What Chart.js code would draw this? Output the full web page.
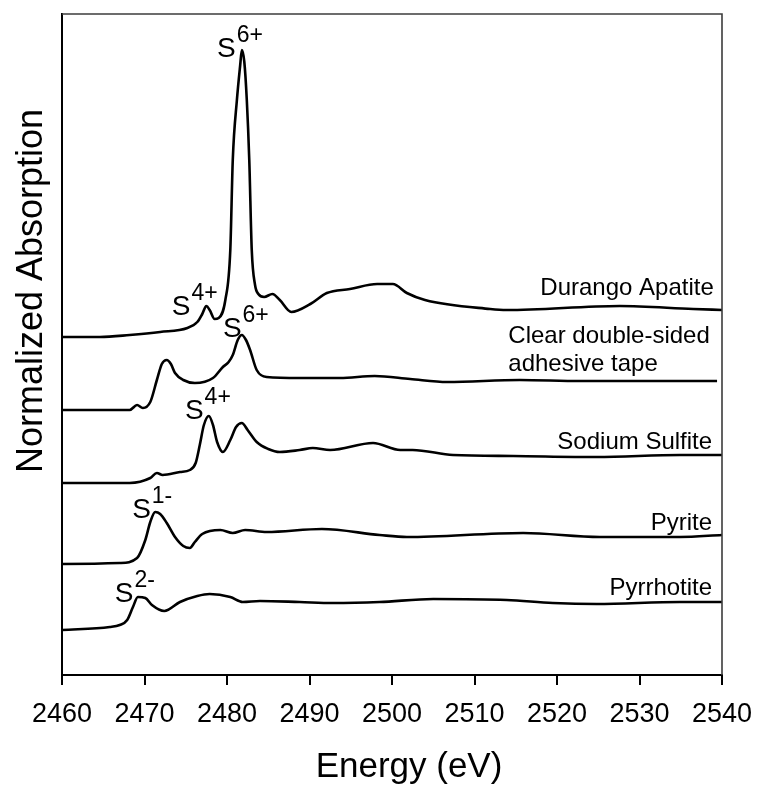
<!DOCTYPE html>
<html>
<head>
<meta charset="utf-8">
<script src="https://cdn.jsdelivr.net/npm/chart.js@4.4.1/dist/chart.umd.min.js"></script>
<style>
  html, body { margin: 0; padding: 0; background: #fff; }
</style>
</head>
<body>
<canvas id="chart" width="757" height="789"></canvas>
<script>
// ── Sulfur K-edge XANES spectra, stacked with vertical offsets ───────────────
const durangoE = [2460, 2464.6, 2468.2, 2471.9, 2475.2, 2476.4, 2477.0, 2477.5, 2477.9, 2478.5,
                  2479.0, 2479.8, 2480.4, 2480.7, 2481.2, 2481.6, 2481.8, 2482.1, 2482.4, 2482.7,
                  2483.0, 2483.4, 2483.8, 2484.5, 2485.5, 2486.4, 2487.8, 2490.1, 2492.1, 2494.9,
                  2498.2, 2500.1, 2501.8, 2504.0, 2511.9, 2513.9, 2527.6, 2536.5, 2540];
const durangoA = [3.38, 3.38, 3.40, 3.43, 3.47, 3.53, 3.61, 3.69, 3.65, 3.56,
                  3.57, 3.75, 4.25, 5.15, 5.75, 6.10, 6.25, 6.13, 5.75, 5.15,
                  4.25, 3.90, 3.81, 3.78, 3.81, 3.75, 3.63, 3.71, 3.82, 3.86,
                  3.91, 3.91, 3.82, 3.75, 3.66, 3.65, 3.69, 3.66, 3.65];

const tapeE = [2460, 2468.2, 2469.1, 2469.8, 2470.7, 2471.5, 2472.1, 2472.7, 2473.2, 2473.7,
               2474.7, 2476.1, 2478.3, 2479.5, 2480.2, 2480.7, 2481.3, 2481.8, 2482.3, 2482.8,
               2483.6, 2484.8, 2488.8, 2493.7, 2497.9, 2502.2, 2506.7, 2515.5, 2522.8, 2539.4];
const tapeA = [2.65, 2.65, 2.70, 2.67, 2.73, 2.95, 3.11, 3.15, 3.11, 3.02,
               2.95, 2.92, 2.97, 3.08, 3.13, 3.20, 3.35, 3.40, 3.35, 3.25,
               3.05, 2.98, 2.97, 2.97, 2.99, 2.96, 2.93, 2.95, 2.94, 2.94];

const sulfiteE = [2460, 2468.2, 2470.7, 2471.5, 2472.2, 2474.3, 2475.5, 2476.2, 2476.7, 2477.2,
                  2477.8, 2478.3, 2478.8, 2479.5, 2480.4, 2481.1, 2481.8, 2482.5, 2483.6, 2485.0,
                  2486.4, 2488.8, 2490.4, 2492.5, 2497.7, 2501.0, 2502.5, 2507.4, 2514.7, 2524.8,
                  2534.9, 2540];
const sulfiteA = [1.92, 1.92, 1.97, 2.02, 2.00, 2.03, 2.05, 2.12, 2.30, 2.50,
                  2.59, 2.50, 2.33, 2.23, 2.35, 2.48, 2.52, 2.45, 2.33, 2.26,
                  2.23, 2.25, 2.27, 2.25, 2.32, 2.25, 2.25, 2.20, 2.19, 2.18,
                  2.20, 2.20];

const pyriteE = [2460, 2467.0, 2469.1, 2470.1, 2470.7, 2471.3, 2471.9, 2472.7, 2473.7, 2474.7,
                 2475.5, 2476.1, 2477.0, 2479.2, 2480.7, 2482.2, 2484.8, 2491.5, 2498.5, 2501.8,
                 2515.9, 2525.2, 2534.9, 2540];
const pyriteA = [1.11, 1.12, 1.17, 1.35, 1.53, 1.63, 1.61, 1.52, 1.38, 1.29,
                 1.27, 1.33, 1.41, 1.45, 1.42, 1.45, 1.43, 1.46, 1.40, 1.38,
                 1.42, 1.38, 1.38, 1.40];

const pyrrhE = [2460, 2465.8, 2467.0, 2467.9, 2468.6, 2469.2, 2470.1, 2470.9, 2472.4, 2474.3,
                2476.4, 2477.9, 2480.4, 2481.9, 2484.0, 2488.8, 2492.8, 2498.5, 2505.0, 2513.9,
                2519.5, 2524.8, 2534.9, 2540];
const pyrrhA = [0.45, 0.48, 0.50, 0.55, 0.68, 0.78, 0.77, 0.70, 0.64, 0.73,
                0.79, 0.81, 0.78, 0.73, 0.74, 0.73, 0.72, 0.73, 0.76, 0.75,
                0.72, 0.71, 0.73, 0.73];

const xTicks = [2460, 2470, 2480, 2490, 2500, 2510, 2520, 2530, 2540];

// sample names, anchored in data space (right edge / baseline)
const sampleLabels = [
    { lines: ['Durango Apatite'],                          e: 2539.0, a: 3.80, align: 'right' },
    { lines: ['Clear double-sided', 'adhesive tape'],      e: 2514.1, a: 3.32, align: 'left' },
    { lines: ['Sodium Sulfite'],                           e: 2538.8, a: 2.26, align: 'right' },
    { lines: ['Pyrite'],                                   e: 2538.8, a: 1.45, align: 'right' },
    { lines: ['Pyrrhotite'],                               e: 2538.8, a: 0.80, align: 'right' },
];

// oxidation-state markers (left edge / baseline of the "S")
const stateLabels = [
    { sup: '6+', e: 2478.8, a: 6.18 },
    { sup: '4+', e: 2473.3, a: 3.60 },
    { sup: '6+', e: 2479.5, a: 3.38 },
    { sup: '4+', e: 2474.9, a: 2.56 },
    { sup: '1-', e: 2468.5, a: 1.57 },
    { sup: '2-', e: 2466.4, a: 0.73 },
];

const FONT = "'Liberation Sans', Arial, sans-serif";

const pts = (xs, ys) => xs.map((x, i) => ({ x, y: ys[i] }));
const line = data => ({
    data, borderColor: '#000', borderWidth: 2.6, pointRadius: 0,
    fill: false, cubicInterpolationMode: 'monotone'
});

// ── Frame, annotations and axis titles ───────────────────────────────────────
const annotate = {
    id: 'annotate',
    afterDraw(chart) {
        const { ctx, chartArea: a, scales: { x, y } } = chart;
        ctx.save();

        ctx.strokeStyle = '#3c3c3c';
        ctx.lineWidth = 1.6;
        ctx.beginPath();
        ctx.moveTo(a.left, a.top);
        ctx.lineTo(a.right, a.top);
        ctx.lineTo(a.right, a.bottom);
        ctx.stroke();

        ctx.fillStyle = '#000';
        ctx.textBaseline = 'alphabetic';

        ctx.font = `24px ${FONT}`;
        sampleLabels.forEach(l => {
            ctx.textAlign = l.align;
            l.lines.forEach((t, i) => ctx.fillText(t, x.getPixelForValue(l.e), y.getPixelForValue(l.a) + i * 28));
        });

        ctx.textAlign = 'left';
        stateLabels.forEach(l => {
            const px = x.getPixelForValue(l.e), py = y.getPixelForValue(l.a);
            ctx.font = `28px ${FONT}`;
            ctx.fillText('S', px, py);
            const w = ctx.measureText('S').width;
            ctx.font = `23px ${FONT}`;
            ctx.fillText(l.sup, px + w + 1, py - 15);
        });

        ctx.font = `35px ${FONT}`;
        ctx.textAlign = 'center';
        ctx.fillText('Energy (eV)', a.left + 347, 777);

        ctx.font = `36px ${FONT}`;
        ctx.translate(42, 291);
        ctx.rotate(-Math.PI / 2);
        ctx.fillText('Normalized Absorption', 0, 0);
        ctx.restore();
    }
};

new Chart(document.getElementById('chart'), {
    type: 'line',
    data: {
        datasets: [
            line(pts(durangoE, durangoA)),
            line(pts(tapeE, tapeA)),
            line(pts(sulfiteE, sulfiteA)),
            line(pts(pyriteE, pyriteA)),
            line(pts(pyrrhE, pyrrhA)),
        ]
    },
    options: {
        responsive: false,
        animation: false,
        devicePixelRatio: 1,
        layout: { padding: { top: 14, right: 35, left: 0, bottom: 0 } },
        plugins: { legend: { display: false }, tooltip: { enabled: false } },
        scales: {
            x: {
                type: 'linear', min: 2460, max: 2540,
                afterBuildTicks: s => { s.ticks = xTicks.map(v => ({ value: v })); },
                afterFit: s => { s.height = 114; s.paddingLeft = 0; s.paddingRight = 0; },
                ticks: {
                    color: '#000', font: { family: FONT, size: 27 }, padding: 13, maxRotation: 0,
                    callback: v => String(v)
                },
                grid: { drawOnChartArea: false, drawTicks: true, tickLength: 10, color: '#000', lineWidth: 2 },
                border: { color: '#000', width: 2 }
            },
            y: {
                type: 'linear', min: 0, max: 6.61,
                afterFit: s => { s.width = 62; },
                ticks: { display: false },
                grid: { display: false },
                border: { color: '#000', width: 2 }
            }
        }
    },
    plugins: [annotate]
});
</script>
</body>
</html>
